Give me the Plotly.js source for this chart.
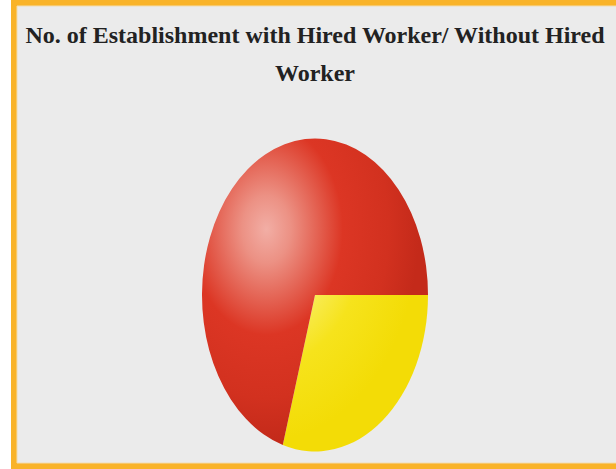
<!DOCTYPE html>
<html>
<head>
<meta charset="utf-8">
<script src="https://cdn.plot.ly/plotly-3.0.1.min.js"></script>
<style>
  html, body { margin: 0; padding: 0; background: #ffffff; }
  #chart { width: 616px; height: 469px; }
</style>
</head>
<body>
<div id="chart"></div>
<script>
// Data
var categories = ["With Hired Worker", "Without Hired Worker"];
var values = [29.6, 70.4];
var sliceColors = ["#f5e10e", "#d93422"];
var chartTitle = "No. of Establishment with Hired Worker/ Without Hired<br>Worker";

var W = 616, H = 469;
function px(x) { return x / W; }
function py(y) { return 1 - y / H; }

// pie centre / radius (horizontal) in pixels; vertical stretch applied afterwards
var cxPx = 315, cyPx = 295, rPx = 113, stretchY = 1.385;

var trace = {
  type: "pie",
  labels: categories,
  values: values,
  sort: false,
  direction: "clockwise",
  rotation: 90,
  textinfo: "none",
  hoverinfo: "label+value",
  marker: { colors: sliceColors, line: { width: 0 } },
  domain: {
    x: [px(cxPx - rPx), px(cxPx + rPx)],
    y: [py(cyPx + rPx), py(cyPx - rPx)]
  }
};

var layout = {
  width: W,
  height: H,
  margin: { l: 0, r: 0, t: 0, b: 0 },
  paper_bgcolor: "#ffffff",
  showlegend: false,
  title: {
    text: chartTitle,
    x: px(315),
    xanchor: "center",
    xref: "paper",
    y: py(43),
    yanchor: "top",
    yref: "paper",
    font: { family: "Liberation Serif, DejaVu Serif, serif", size: 24, color: "#222222", weight: "bold" }
  },
  shapes: [
    { type: "rect", xref: "paper", yref: "paper", layer: "below",
      x0: px(11), x1: 1.02, y0: -0.02, y1: 1.02,
      fillcolor: "#f9b329", line: { width: 0 } },
    { type: "rect", xref: "paper", yref: "paper", layer: "below",
      x0: px(17), x1: 1.02, y0: py(463), y1: py(6),
      fillcolor: "#ebebeb", line: { width: 1, color: "#f2dcb0" } }
  ]
};

Plotly.newPlot("chart", [trace], layout, { staticPlot: true, displayModeBar: false }).then(function (gd) {
  var svgNS = "http://www.w3.org/2000/svg";

  // widen title line spacing
  var lines = gd.querySelectorAll(".gtitle tspan.line");
  lines.forEach(function (t, i) {
    if (i === 0) return;
    var dy = t.getAttribute("dy");
    if (dy && /em$/.test(dy)) {
      t.setAttribute("dy", (parseFloat(dy) * 1.58 / 1.3) + "em");
    }
  });

  var pieLayer = gd.querySelector(".pielayer");
  if (!pieLayer) return;
  var bb = pieLayer.getBBox();
  var cx = bb.x + bb.width / 2, cy = bb.y + bb.height / 2;
  var r = bb.width / 2;

  // gradients
  var svg = gd.querySelector(".main-svg");
  var defs = svg.querySelector("defs") || svg.insertBefore(document.createElementNS(svgNS, "defs"), svg.firstChild);
  function grad(id, stops) {
    var g = document.createElementNS(svgNS, "radialGradient");
    g.setAttribute("id", id);
    g.setAttribute("gradientUnits", "userSpaceOnUse");
    g.setAttribute("cx", cx - 0.43 * r);
    g.setAttribute("cy", cy - 0.42 * r);
    g.setAttribute("r", 1.35 * r);
    g.setAttribute("fx", cx - 0.43 * r);
    g.setAttribute("fy", cy - 0.42 * r);
    stops.forEach(function (s) {
      var st = document.createElementNS(svgNS, "stop");
      st.setAttribute("offset", s[0]);
      st.setAttribute("stop-color", s[1]);
      g.appendChild(st);
    });
    defs.appendChild(g);
  }
  grad("gradYellow", [[0, "#fff8a8"], [0.42, "#f8ec5a"], [0.65, "#f6e31c"], [1, "#f3dc06"]]);
  grad("gradRed", [[0, "#f2aea5"], [0.16, "#ec9184"], [0.5, "#dc3624"], [0.8, "#d2311f"], [1, "#c42a1a"]]);
  var fills = ["url(#gradYellow)", "url(#gradRed)"];
  pieLayer.querySelectorAll("path.surface").forEach(function (p, i) {
    p.style.fill = fills[i];
  });

  var prev = pieLayer.getAttribute("transform") || "";
  pieLayer.setAttribute("transform", prev + " translate(" + cx + "," + cy + ") scale(1," + stretchY + ") translate(" + (-cx) + "," + (-cy) + ")");
});
</script>
</body>
</html>
